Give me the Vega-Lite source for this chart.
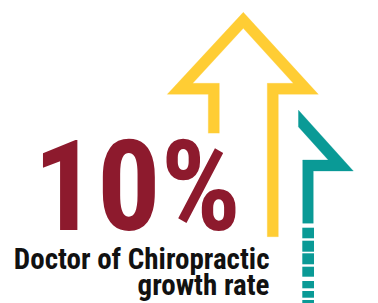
{
  "$schema": "https://vega.github.io/schema/vega-lite/v6.json",
  "width": 378,
  "height": 303,
  "padding": 0,
  "autosize": {"type": "none"},
  "background": "white",
  "config": {"view": {"stroke": null}},
  "datasets": {
    "yellow": [
      {"i": 0, "x": 208.3, "y": 133.3},
      {"i": 1, "x": 208.3, "y": 94.3},
      {"i": 2, "x": 167.3, "y": 94.3},
      {"i": 3, "x": 243.3, "y": 12.3},
      {"i": 4, "x": 318.3, "y": 94.3},
      {"i": 5, "x": 278.3, "y": 94.3},
      {"i": 6, "x": 278.3, "y": 236.7},
      {"i": 7, "x": 267.3, "y": 236.7},
      {"i": 8, "x": 267.3, "y": 83.3},
      {"i": 9, "x": 293.3, "y": 83.3},
      {"i": 10, "x": 243.3, "y": 28.3},
      {"i": 11, "x": 192.7, "y": 83.3},
      {"i": 12, "x": 219.3, "y": 83.3},
      {"i": 13, "x": 219.3, "y": 133.3}
    ],
    "teal": [
      {"i": 0, "x": 298.3, "y": 110},
      {"i": 1, "x": 353.3, "y": 171},
      {"i": 2, "x": 313.3, "y": 171},
      {"i": 3, "x": 313.3, "y": 223.3},
      {"i": 4, "x": 302.7, "y": 223.3},
      {"i": 5, "x": 302.7, "y": 160},
      {"i": 6, "x": 328.3, "y": 160},
      {"i": 7, "x": 298.3, "y": 126.7}
    ],
    "dashes": [
      {"x": 302.3, "x2": 314, "y": 227.7, "y2": 238.3},
      {"x": 302.3, "x2": 314, "y": 240.7, "y2": 251.7},
      {"x": 302.3, "x2": 314, "y": 253.3, "y2": 264.3},
      {"x": 302.3, "x2": 314, "y": 266.7, "y2": 276.7},
      {"x": 302.3, "x2": 314, "y": 281, "y2": 288.3},
      {"x": 302.3, "x2": 314, "y": 291, "y2": 297.7},
      {"x": 302.3, "x2": 314, "y": 300, "y2": 303.3}
    ],
    "big": [{"x": 241, "y": 230, "label": "10%"}],
    "caption": [
      {"x": 269.5, "y": 269, "label": "Doctor of Chiropractic"},
      {"x": 269.5, "y": 295, "label": "growth rate"}
    ]
  },
  "encoding": {
    "x": {"field": "x", "type": "quantitative", "scale": {"domain": [0, 378], "nice": false, "zero": false}, "axis": null},
    "y": {"field": "y", "type": "quantitative", "scale": {"domain": [0, 303], "nice": false, "zero": false, "reverse": true}, "axis": null}
  },
  "layer": [
    {
      "data": {"name": "yellow"},
      "mark": {"type": "line", "fill": "#FFCD34", "stroke": "#FFCD34", "strokeWidth": 0.3, "strokeJoin": "miter"},
      "encoding": {"order": {"field": "i", "type": "quantitative"}}
    },
    {
      "data": {"name": "teal"},
      "mark": {"type": "line", "fill": "#0A9A96", "stroke": "#0A9A96", "strokeWidth": 0.3, "strokeJoin": "miter"},
      "encoding": {"order": {"field": "i", "type": "quantitative"}}
    },
    {
      "data": {"name": "dashes"},
      "mark": {"type": "rect", "color": "#0A9A96"},
      "encoding": {
        "x2": {"field": "x2"},
        "y2": {"field": "y2"}
      }
    },
    {
      "data": {"name": "big"},
      "mark": {"type": "text", "align": "right", "baseline": "alphabetic", "font": "Roboto Condensed, Roboto", "fontWeight": "bold", "fontSize": 126, "color": "#8D1A2D"},
      "encoding": {"text": {"field": "label"}}
    },
    {
      "data": {"name": "caption"},
      "mark": {"type": "text", "align": "right", "baseline": "alphabetic", "font": "Roboto Condensed, Roboto", "fontWeight": "bold", "fontSize": 29, "color": "#111111"},
      "encoding": {"text": {"field": "label"}}
    }
  ]
}
